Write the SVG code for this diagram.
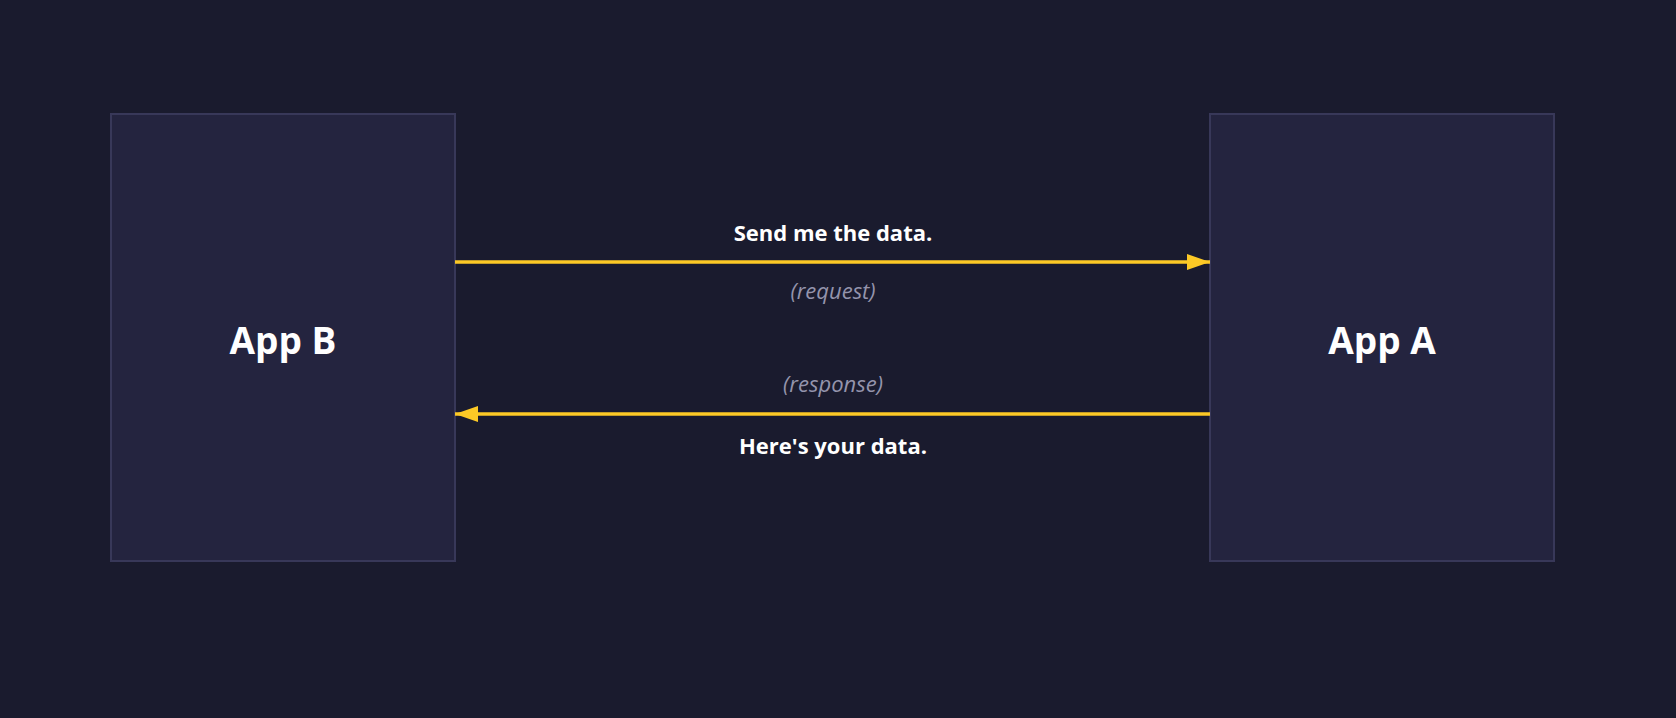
<svg xmlns="http://www.w3.org/2000/svg" width="1676" height="718" viewBox="0 0 1676 718">
<defs>
<style>
.node{fill:#24243f;stroke:#383859;stroke-width:2}
.title{font-family:"Open Sans","Liberation Sans",sans-serif;font-weight:700;font-size:37px;fill:#ffffff;text-anchor:middle}
.msg{font-family:"Open Sans","Liberation Sans",sans-serif;font-weight:700;font-size:22px;fill:#ffffff;text-anchor:middle}
.sub{font-family:"Open Sans","Liberation Sans",sans-serif;font-style:italic;font-size:22px;fill:#9494ac;text-anchor:middle}
.wire{stroke:#fcc926;stroke-width:3.5;fill:none}
</style>
<marker id="ah" viewBox="0 0 23 16" refX="23" refY="8" markerWidth="23" markerHeight="16" markerUnits="userSpaceOnUse" orient="auto">
<path d="M0,0 L23,8 L0,16 Z" fill="#fcc926"/>
</marker>
</defs>
<rect width="1676" height="718" fill="#1a1b2e"/>
<g id="app-b">
<rect class="node" x="111" y="114" width="344" height="447"/>
<text class="title" x="283" y="354">App B</text>
</g>
<g id="app-a">
<rect class="node" x="1210" y="114" width="344" height="447"/>
<text class="title" x="1382" y="354">App A</text>
</g>
<g id="connectors">
<line class="wire" x1="455" y1="262" x2="1210" y2="262" marker-end="url(#ah)"/>
<line class="wire" x1="1210" y1="414" x2="455" y2="414" marker-end="url(#ah)"/>
<text class="msg" x="833" y="241">Send me the data.</text>
<text class="sub" x="833" y="299">(request)</text>
<text class="sub" x="833" y="392">(response)</text>
<text class="msg" x="833" y="454">Here's your data.</text>
</g>
</svg>
